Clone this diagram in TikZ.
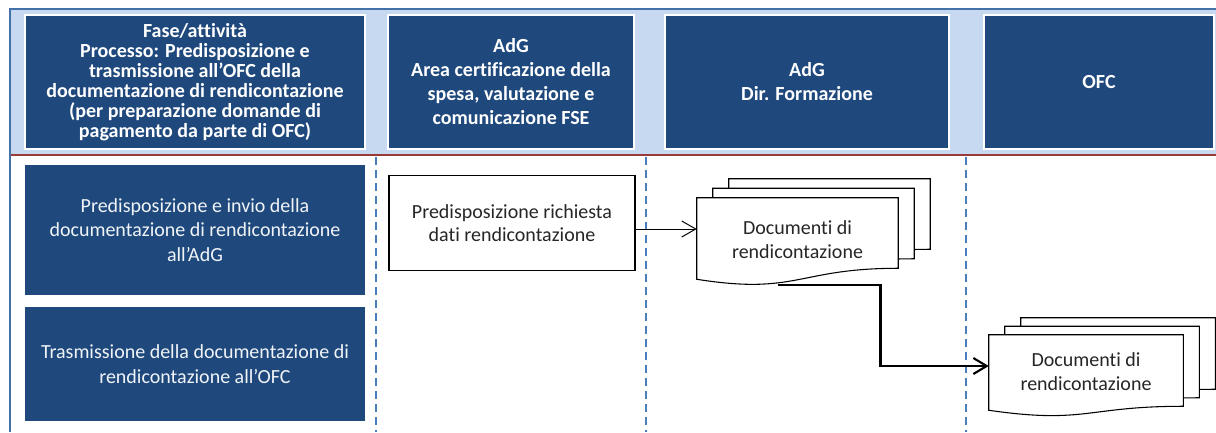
\documentclass[tikz,border=0pt]{standalone}
\usepackage{fontspec}
\setmainfont{Carlito}[Ligatures={NoCommon}]
\usetikzlibrary{calc,arrows.meta}
\definecolor{hblue}{HTML}{1F497D}
\definecolor{band}{HTML}{C6D9F1}
\definecolor{frameblue}{HTML}{4472A8}
\definecolor{redline}{HTML}{993A36}
\definecolor{dashblue}{HTML}{4A7EBB}
\pgfdeclarelayer{bg}
\pgfdeclarelayer{docs}
\pgfsetlayers{bg,docs,main}
\newcommand\docpath[6]{%
  \draw[docline] ($(#1.north west)+(#2,#3)$) -- ($(#1.north east)+(#2,#3)$)
    -- ($(#1.south east)+(#2,#3)+(0,#4)$)
    .. controls ($(#1.south)+(#2,#3)+(0,#4)$) and ($(#1.south)+(#2,#3)+(0,#5)$)
    .. ($(#1.south west)+(#2,#3)+(0,#6)$) -- cycle;}
\begin{document}
\begin{tikzpicture}[x=0.75pt,y=-0.75pt,
  hdr/.style={fill=hblue, draw=white, line width=1.2pt, text=white, align=center,
    inner sep=0pt, font=\bfseries\fontsize{15}{18}\selectfont},
  rowbox/.style={fill=hblue, draw=none, text=white!94!hblue, align=center, inner sep=0pt,
    minimum width=255pt, font=\fontsize{15}{18.4}\selectfont},
  procbox/.style={draw=black, line width=0.8pt, fill=white, align=center, inner sep=0pt,
    text=black!85, font=\fontsize{15}{17.3}\selectfont},
  docnode/.style={draw=none, align=center, inner sep=0pt, text=black!85,
    font=\fontsize{15}{18}\selectfont},
  docline/.style={draw=black, line width=0.8pt, fill=white},
  swim/.style={draw=dashblue, line width=1.5pt, dash pattern=on 6pt off 3.75pt},
  arrthin/.style={draw=black, line width=0.75pt, -{Straight Barb[length=10.5pt,width=12pt]}},
  arrthick/.style={draw=black, line width=1.6pt, -{Straight Barb[length=10pt,width=12pt]}}]
\clip (0,0) rectangle (1216,432);
\begin{pgfonlayer}{bg}
\fill[white] (0,0) rectangle (1216,432);
\end{pgfonlayer}
% header band and frame
\fill[band] (11,10) rectangle (1216,154);
\draw[frameblue, line width=1.8pt] (10,432) -- (10,9) -- (1216,9);
\draw[redline, line width=1.5pt] (11,155) -- (1216,155);
% header boxes
\node[hdr, minimum width=255pt, minimum height=100.5pt, font=\bfseries\fontsize{15}{15}\selectfont] (h1) at (195,82)
  {Fase/attività\\Processo: Predisposizione e\\trasmissione all’OFC della\\documentazione di rendicontazione\\(per preparazione domande di\\pagamento da parte di OFC)};
\node[hdr, minimum width=184.5pt, minimum height=100.5pt] (h2) at (511,82)
  {AdG\\Area certificazione della\\spesa, valutazione e\\comunicazione FSE};
\node[hdr, minimum width=213pt, minimum height=100.5pt] (h3) at (807,82)
  {AdG\\Dir. Formazione};
\node[hdr, minimum width=172.5pt, minimum height=100.5pt] (h4) at (1099,82) {OFC};
% swimlane separators
\draw[swim] (376,157) -- (376,432);
\draw[swim] (646,157) -- (646,432);
\draw[swim] (966,157) -- (966,432);
% row labels
\node[rowbox, minimum height=97.5pt] (r1) at (195,230)
  {Predisposizione e invio della\\documentazione di rendicontazione\\all’AdG};
\node[rowbox, minimum height=85.5pt] (r2) at (195,364)
  {Trasmissione della documentazione di\\rendicontazione all’OFC};
% process box
\node[procbox, minimum width=184.5pt, minimum height=71.25pt] (p1) at (512,223)
  {Predisposizione richiesta\\dati rendicontazione};
% documents
\node[docnode, minimum width=150.75pt, minimum height=63pt] (d1) at (797.5,240)
  {Documenti di\\rendicontazione};
\node[docnode, minimum width=145.5pt, minimum height=55.5pt] (d2) at (1086,372)
  {Documenti di\\rendicontazione};
\begin{pgfonlayer}{docs}
\docpath{d1}{32}{-19}{-14}{13}{-3}
\docpath{d1}{16}{-9.5}{-14}{13}{-3}
\docpath{d1}{0}{0}{-14}{13}{-3}
\docpath{d2}{32}{-17}{-3}{15}{1}
\docpath{d2}{16}{-8.5}{-3}{15}{1}
\docpath{d2}{0}{0}{-3}{15}{1}
\end{pgfonlayer}
% connectors
\draw[arrthin] ($(p1.east)+(0,6)$) -- ($(d1.west)+(0,-11)$);
\coordinate (b1) at ($(d1.south)+(-20,3)$);
\draw[arrthick] (b1) -- ++(103,0) |- ($(d2.west)+(0,-6)$);
\end{tikzpicture}
\end{document}
